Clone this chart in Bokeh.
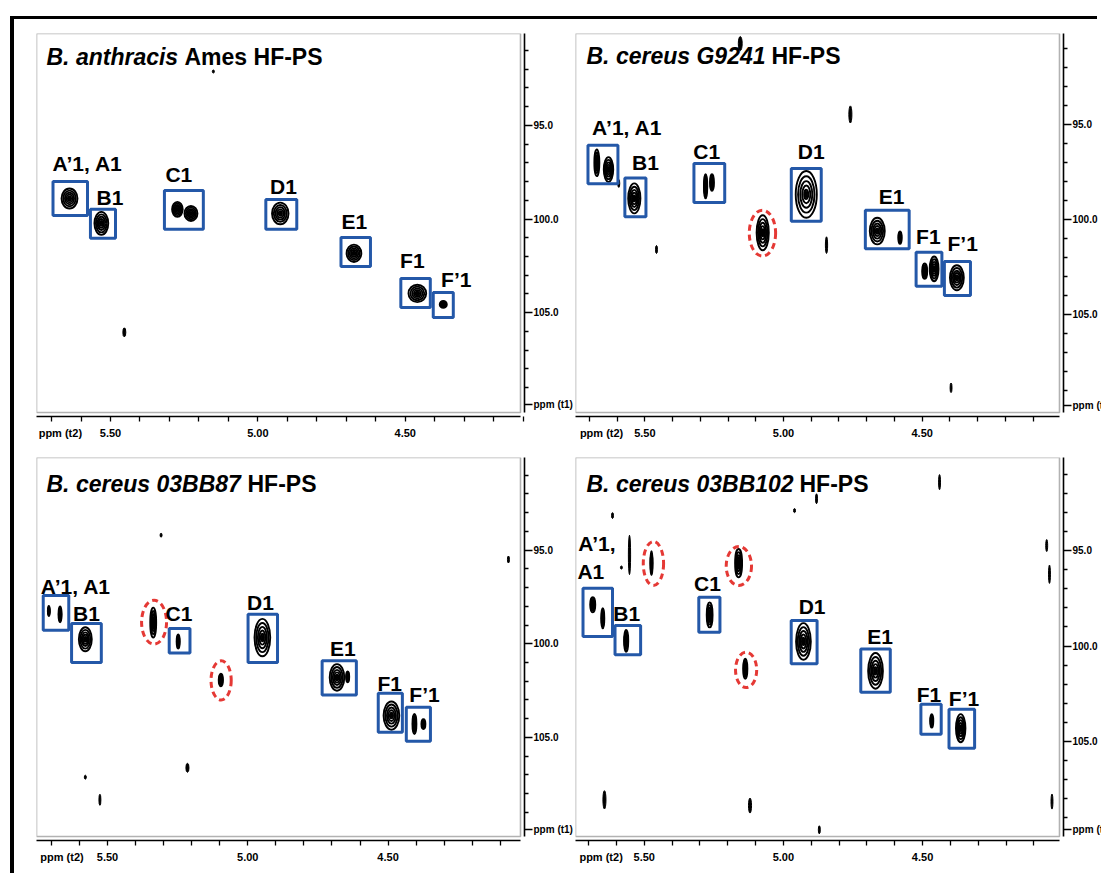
import numpy as np
from bokeh.plotting import figure
from bokeh.models import (Range1d, FixedTicker, PrintfTickFormatter, BoxAnnotation,
                          Label, Div, Spacer)
from bokeh.layouts import row, column
from bokeh.embed import file_html
from bokeh.resources import INLINE
from bokeh.core.properties import value

FONT = "Liberation Sans"
BLUE = "#2458a8"
RED = "#e53935"

# ---------------- axis ticks (ppm) ----------------
X_MAJOR = [5.50, 5.00, 4.50]
X_MINOR = [5.7, 5.6, 5.5, 5.4, 5.3, 5.2, 5.1, 5.0, 4.9, 4.8, 4.7, 4.6, 4.5, 4.4, 4.3,
           4.2, 4.1]
Y_MAJOR = [95.0, 100.0, 105.0]
Y_MINOR = [91, 92, 93, 94, 96, 97, 98, 99, 101, 102, 103, 104, 106, 107, 108, 109]
T2_NAME = "ppm (t2)"
T1_NAME = "ppm (t1)"

# ---------------- panel 1: B. anthracis Ames ----------------
ANTH_TITLE = ["B. anthracis", "Ames HF-PS"]
ANTH_VIEW = [5.751, 4.109, 90.09, 110.33]        # t2 left, t2 right, t1 top, t1 bottom
ANTH_NAME_POS = [5.670, 109.9]                    # where the axis names sit (t2, t1)
ANTH_PEAKS = [  # (t2 ppm, t1 ppm, width ppm, height ppm)
    (5.639, 98.90, 0.054, 1.07), (5.531, 100.23, 0.047, 1.23),
    (5.273, 99.48, 0.036, 0.80), (5.227, 99.70, 0.044, 0.80),
    (4.924, 99.70, 0.056, 1.16), (4.674, 101.83, 0.050, 0.93),
    (4.459, 103.97, 0.060, 0.93), (4.371, 104.56, 0.024, 0.37),
]
ANTH_NOISE = [(5.151, 92.12, 0.007, 0.16), (5.453, 106.05, 0.010, 0.48)]
ANTH_BOXES = [  # (t2 a, t2 b, t1 a, t1 b)
    (5.695, 5.578, 97.99, 99.81), (5.568, 5.483, 99.48, 101.03),
    (5.317, 5.185, 98.47, 100.55), (4.973, 4.868, 98.95, 100.55),
    (4.718, 4.618, 100.98, 102.53), (4.515, 4.415, 103.17, 104.72),
    (4.405, 4.337, 103.92, 105.25),
]
ANTH_CIRCLED = []
ANTH_LABELS = [("A’1, A1", 5.578, 97.03), ("B1", 5.502, 98.84), ("C1", 5.268, 97.62),
               ("D1", 4.913, 98.26), ("E1", 4.673, 100.13), ("F1", 4.476, 102.21),
               ("F’1", 4.327, 103.22)]

# ---------------- panel 2: B. cereus G9241 ----------------
G92_TITLE = ["B. cereus G9241", "HF-PS"]
G92_VIEW = [5.750, 4.005, 90.21, 110.16]
G92_NAME_POS = [5.656, 109.8]
G92_PEAKS = [
    (5.673, 97.02, 0.018, 1.40), (5.631, 97.37, 0.034, 1.30),
    (5.538, 98.89, 0.044, 1.58), (5.281, 98.25, 0.012, 1.28),
    (5.258, 98.05, 0.014, 0.88), (4.918, 98.68, 0.076, 2.46),
    (4.662, 100.61, 0.054, 1.40), (4.580, 100.96, 0.012, 0.65),
    (4.491, 102.72, 0.018, 0.80), (4.457, 102.60, 0.032, 1.30),
    (4.375, 103.07, 0.050, 1.32), (5.075, 100.70, 0.044, 1.84),
]
G92_NOISE = [(5.156, 90.74, 0.014, 0.74), (4.759, 94.47, 0.011, 0.90),
             (5.594, 98.10, 0.007, 0.42), (5.458, 101.58, 0.007, 0.42),
             (4.845, 101.35, 0.008, 0.88), (4.396, 108.86, 0.007, 0.50)]
G92_BOXES = [
    (5.705, 5.597, 96.09, 98.12), (5.572, 5.496, 97.81, 99.86),
    (5.323, 5.212, 97.05, 99.11), (4.972, 4.864, 97.32, 100.09),
    (4.705, 4.547, 99.51, 101.54), (4.522, 4.429, 101.72, 103.51),
    (4.420, 4.326, 102.21, 104.00),
]
G92_CIRCLED = [(5.076, 100.72, 0.095, 2.42)]
G92_LABELS = [("A’1, A1", 5.564, 95.18), ("B1", 5.498, 97.02), ("C1", 5.277, 96.40),
              ("D1", 4.900, 96.40), ("E1", 4.610, 98.77), ("F1", 4.478, 100.91),
              ("F’1", 4.354, 101.26)]

# ---------------- panel 3: B. cereus 03BB87 ----------------
BB87_TITLE = ["B. cereus 03BB87", "HF-PS"]
BB87_VIEW = [5.753, 4.028, 90.05, 110.30]
BB87_NAME_POS = [5.662, 109.9]
BB87_PEAKS = [
    (5.709, 98.25, 0.007, 0.53), (5.669, 98.43, 0.011, 0.84),
    (5.579, 99.76, 0.046, 1.28), (5.248, 99.88, 0.011, 0.76),
    (4.948, 99.67, 0.056, 2.00), (4.682, 101.80, 0.052, 1.42),
    (4.644, 101.77, 0.011, 0.59), (4.488, 103.84, 0.056, 1.51),
    (4.406, 104.29, 0.014, 1.07), (4.374, 104.29, 0.014, 0.53),
    (5.337, 98.87, 0.021, 1.60), (5.096, 101.94, 0.015, 0.68),
]
BB87_NOISE = [(5.309, 94.20, 0.007, 0.21), (4.071, 95.50, 0.007, 0.37),
              (5.215, 106.63, 0.011, 0.48), (5.579, 107.13, 0.007, 0.21),
              (5.527, 108.34, 0.007, 0.59)]
BB87_BOXES = [
    (5.729, 5.638, 97.42, 99.28), (5.628, 5.522, 98.92, 101.00),
    (5.280, 5.206, 99.19, 100.50), (4.999, 4.894, 98.43, 101.00),
    (4.735, 4.613, 100.91, 102.74), (4.535, 4.449, 102.65, 104.73),
    (4.435, 4.349, 103.40, 105.21),
]
BB87_CIRCLED = [(5.334, 98.85, 0.089, 2.34), (5.095, 101.96, 0.072, 2.09)]
BB87_LABELS = [("A’1, A1", 5.613, 96.92), ("B1", 5.575, 98.39), ("C1", 5.245, 98.39),
               ("D1", 4.955, 97.81), ("E1", 4.661, 100.24), ("F1", 4.494, 102.12),
               ("F’1", 4.370, 102.69)]

# ---------------- panel 4: B. cereus 03BB102 ----------------
BB102_TITLE = ["B. cereus 03BB102", "HF-PS"]
BB102_VIEW = [5.747, 4.008, 90.13, 109.97]
BB102_NAME_POS = [5.655, 109.6]
BB102_PEAKS = [
    (5.685, 97.84, 0.018, 0.79), (5.649, 98.54, 0.011, 1.05),
    (5.565, 99.73, 0.015, 1.14), (5.265, 98.37, 0.021, 1.31),
    (4.928, 99.76, 0.053, 1.92), (4.669, 101.30, 0.053, 1.87),
    (4.467, 103.92, 0.011, 0.70), (4.363, 104.30, 0.034, 1.48),
    (5.474, 95.66, 0.008, 1.26), (5.161, 95.66, 0.025, 1.48),
    (5.137, 101.19, 0.015, 1.05),
]
BB102_NOISE = [(5.553, 95.23, 0.008, 2.06), (5.582, 95.89, 0.007, 0.16),
               (5.614, 93.17, 0.007, 0.31), (4.439, 91.42, 0.007, 0.79),
               (4.881, 92.29, 0.007, 0.52), (4.960, 92.91, 0.007, 0.21),
               (4.054, 94.74, 0.007, 0.63), (4.044, 96.24, 0.007, 0.96),
               (5.643, 108.05, 0.011, 0.96), (5.120, 108.35, 0.011, 0.79),
               (4.035, 108.14, 0.007, 0.79), (4.871, 109.62, 0.007, 0.42)]
BB102_BOXES = [
    (5.720, 5.614, 96.97, 99.50), (5.605, 5.513, 98.93, 100.46),
    (5.304, 5.228, 97.44, 99.28), (4.972, 4.879, 98.66, 100.93),
    (4.722, 4.616, 100.15, 102.42), (4.506, 4.433, 103.05, 104.62),
    (4.405, 4.313, 103.31, 105.35),
]
BB102_CIRCLED = [(5.467, 95.68, 0.073, 2.30), (5.160, 95.81, 0.091, 2.04),
                 (5.134, 101.25, 0.076, 1.85)]
BB102_LABELS = [("A’1,", 5.670, 94.62), ("A1", 5.692, 96.10), ("B1", 5.563, 98.28),
                ("C1", 5.273, 96.71), ("D1", 4.897, 97.93), ("E1", 4.653, 99.50),
                ("F1", 4.477, 102.56), ("F’1", 4.351, 102.73)]

# ---------------- geometry (pixels) ----------------
BOX_W, BOX_H = 484, 379      # spectrum frame
FW, FH = 488, 383            # plot frame incl. offset axes
RINGS = [1.0, 0.78, 0.57, 0.38, 0.2]


def cols(items, k):
    return np.array([it[k] for it in items], dtype=float)


def make_panel(view, name_pos, title, title_x, title_dy, peaks, noise, boxes, circled,
               labels, borders):
    xl, xr, yt, yb = view
    x_end = xl + (xr - xl) * FW / BOX_W
    y_end = yt + (yb - yt) * FH / BOX_H
    bl, br, bt, bb = borders
    p = figure(frame_width=FW, frame_height=FH,
               x_range=Range1d(xl, x_end), y_range=Range1d(y_end, yt),
               x_axis_location="below", y_axis_location="right",
               toolbar_location=None, output_backend="svg", title=None,
               min_border_left=bl, min_border_right=br,
               min_border_top=bt, min_border_bottom=bb,
               outline_line_color=None, background_fill_color="white",
               border_fill_color="white")
    p.xgrid.visible = False
    p.ygrid.visible = False

    # spectrum frame
    p.add_layout(BoxAnnotation(left=xl, right=xr, top=yt, bottom=yb,
                               fill_color=None, fill_alpha=0,
                               line_color="black", line_width=1.6))

    # axes: t2 ticks are drawn as minor ticks, majors only carry the labels
    t2n, t1n = name_pos
    xa = p.xaxis[0]
    xa.ticker = FixedTicker(ticks=X_MAJOR + [t2n], minor_ticks=X_MINOR)
    xa.formatter = PrintfTickFormatter(format="%.2f")
    xa.major_label_overrides = {t2n: T2_NAME, str(t2n): T2_NAME}
    xa.bounds = (min(xl, xr), max(xl, xr))
    ya = p.yaxis[0]
    ya.ticker = FixedTicker(ticks=Y_MAJOR + [t1n], minor_ticks=Y_MINOR)
    ya.formatter = PrintfTickFormatter(format="%.1f")
    ya.major_label_overrides = {t1n: T1_NAME, str(t1n): T1_NAME}
    ya.bounds = (min(yt, yb), max(yt, yb))
    for ax in (xa, ya):
        ax.axis_line_width = 1.6
        ax.axis_line_color = "black"
        ax.major_tick_line_width = 1.3
        ax.minor_tick_line_width = 1.3
        ax.major_tick_line_color = "black"
        ax.minor_tick_line_color = "black"
        ax.major_tick_in = 0
        ax.minor_tick_in = 0
        ax.major_label_text_font = FONT
        ax.major_label_text_font_style = "bold"
        ax.major_label_text_color = "black"
    xa.major_label_text_font_size = "11px"
    ya.major_label_text_font_size = "10px"
    xa.major_tick_out = 0
    xa.minor_tick_out = 5
    xa.major_label_standoff = 5
    ya.major_tick_out = 8
    ya.minor_tick_out = 4
    ya.major_label_standoff = 1

    # noise specks
    if noise:
        p.ellipse(x=cols(noise, 0), y=cols(noise, 1), width=cols(noise, 2),
                  height=cols(noise, 3), fill_color="black", line_color="black",
                  line_width=1)
    # contour peaks
    px, py, pw, ph = (cols(peaks, k) for k in range(4))
    for s in RINGS:
        p.ellipse(x=px, y=py, width=pw * s, height=ph * s, fill_color=None,
                  line_color="black", line_width=1.9)
    p.ellipse(x=px, y=py, width=pw * 0.15, height=ph * 0.15, fill_color="black",
              line_color="black", line_width=1)

    # assignment boxes
    p.quad(left=cols(boxes, 0), right=cols(boxes, 1), top=cols(boxes, 2),
           bottom=cols(boxes, 3), fill_color=None, line_color=BLUE, line_width=3)
    # red dashed circles
    if circled:
        p.ellipse(x=cols(circled, 0), y=cols(circled, 1), width=cols(circled, 2),
                  height=cols(circled, 3), fill_color=None, line_color=RED,
                  line_width=3, line_dash="6 4")
    # peak labels
    p.text(x=[l[1] for l in labels], y=[l[2] for l in labels],
           text=[l[0] for l in labels], text_font=value(FONT),
           text_font_size="21px", text_font_style="bold", text_color="black",
           text_align="center", text_baseline="middle")

    # title (italic species + upright rest)
    for txt, tx, style in ((title[0], title_x[0], "bold italic"),
                           (title[1], title_x[1], "bold")):
        p.add_layout(Label(x=tx, y=FH - title_dy, x_units="screen", y_units="screen",
                           text=txt, text_font=FONT, text_font_size="23px",
                           text_font_style=style, text_color="black",
                           text_baseline="middle", text_align="left"))
    return p


f1 = make_panel(ANTH_VIEW, ANTH_NAME_POS, ANTH_TITLE, (10, 148), 23, ANTH_PEAKS,
                ANTH_NOISE, ANTH_BOXES, ANTH_CIRCLED, ANTH_LABELS, (22, 47, 14, 24))
f2 = make_panel(G92_VIEW, G92_NAME_POS, G92_TITLE, (11, 196), 22, G92_PEAKS, G92_NOISE,
                G92_BOXES, G92_CIRCLED, G92_LABELS, (0, 38, 14, 24))
f3 = make_panel(BB87_VIEW, BB87_NAME_POS, BB87_TITLE, (10, 211), 26, BB87_PEAKS,
                BB87_NOISE, BB87_BOXES, BB87_CIRCLED, BB87_LABELS, (22, 47, 16, 34))
f4 = make_panel(BB102_VIEW, BB102_NAME_POS, BB102_TITLE, (11, 224), 26, BB102_PEAKS,
                BB102_NOISE, BB102_BOXES, BB102_CIRCLED, BB102_LABELS, (0, 38, 16, 34))

top_bar = row(Spacer(width=10, height=3, margin=0),
              Div(text="", width=1087, height=3, margin=0,
                  styles={"background-color": "black"}),
              spacing=0)
left_bar = Div(text="", width=4, height=854, margin=0,
               styles={"background-color": "black"})
grid = column(row(f1, f2, spacing=0), row(f3, f4, spacing=0), spacing=0)
page = column(Spacer(width=1097, height=16, margin=0), top_bar,
              row(Spacer(width=10, height=854, margin=0), left_bar, grid, spacing=0),
              spacing=0)

open("out.html", "w").write(file_html(page, INLINE))
